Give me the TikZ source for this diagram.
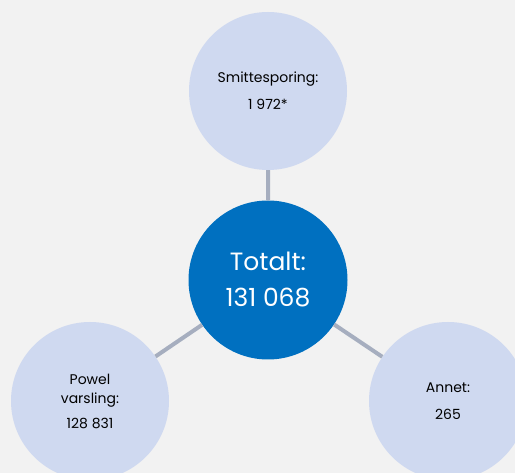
\documentclass[tikz,border=0pt]{standalone}
\usepackage{fontspec}
\setmainfont{Poppins}
\usepackage{xcolor}

\definecolor{bakgrunn}{HTML}{F2F2F2}
\definecolor{totblaa}{HTML}{0070C0}
\definecolor{lysblaa}{HTML}{CFD9F0}
\definecolor{linjegraa}{HTML}{A6AEBF}

\begin{document}
\begin{tikzpicture}[x=1pt,y=-1pt,
        boble/.style={circle,fill=lysblaa,inner sep=0pt,minimum size=158pt,align=center,
            font=\fontsize{14}{19}\selectfont},
        total/.style={circle,fill=totblaa,text=white,inner sep=0pt,minimum size=159pt,align=center,
            font=\fontsize{25}{36}\selectfont},
        kobling/.style={draw=linjegraa,line width=4pt}]
            \fill[bakgrunn] (0,0) rectangle (515,473);
            \clip (0,0) rectangle (515,473);

            \node (tot) at (268,280) [total] {Totalt:\\131 068};
            \node (smitte) at (268,91) [boble] {Smittesporing:\\[8pt]1 972*};
            \node (powel) at (90,401) [boble] {Powel\\varsling:\\[6pt]128 831};
            \node (annet) at (448,401) [boble] {Annet:\\[8pt]265};

            % koblinger mot midten
            \draw[kobling] (smitte) -- (tot) (powel) -- (tot) (annet) -- (tot);
        \end{tikzpicture}
\end{document}
